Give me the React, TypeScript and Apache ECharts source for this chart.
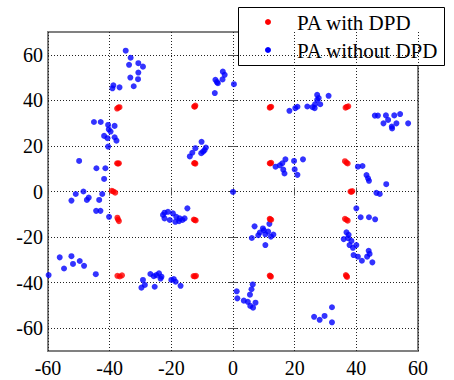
import React, { useEffect, useRef } from "react";
import * as echarts from "echarts";

const xTicks = [-60, -40, -20, 0, 20, 40, 60];
const yTicks = [-60, -40, -20, 0, 20, 40, 60];

const legendNames = ["PA with DPD", "PA without DPD"];

// PA with DPD (red)
const withDpd: number[][] = [
  [-37.6, 36.4], [-36.8, 37.0], [-37.2, 36.8],
  [-12.6, 37.3], [-12.2, 37.7], [-12.4, 37.2],
  [11.9, 36.8], [12.4, 37.2], [12.1, 37.0],
  [36.5, 36.8], [37.4, 37.4], [36.9, 37.1],
  [-37.6, 12.4], [-37.0, 12.4], [-37.3, 12.2],
  [-12.6, 12.4], [-12.2, 12.2], [-12.4, 12.5],
  [11.9, 12.4], [12.4, 12.6], [12.1, 12.3],
  [36.3, 13.3], [37.2, 12.3], [36.8, 12.7],
  [-39.3, 0.3], [-38.2, -0.5], [-38.8, 0.0],
  [38.1, 0.0], [38.7, 0.2], [38.4, -0.2],
  [-37.5, -11.5], [-37.0, -13.0], [-37.3, -12.3],
  [-12.7, -12.3], [-12.1, -12.7], [-12.4, -12.5],
  [11.9, -12.0], [12.4, -12.4], [12.1, -12.2],
  [36.3, -12.0], [37.2, -12.8], [36.8, -12.4],
  [-37.5, -37.0], [-36.0, -36.8], [-36.7, -37.3],
  [-12.8, -37.1], [-12.0, -37.0], [-12.4, -37.3],
  [11.9, -36.9], [12.3, -37.4], [12.1, -37.1],
  [36.6, -36.7], [37.0, -37.5], [36.8, -37.1],
];

// PA without DPD (blue)
const withoutDpd: number[][] = [
  [-34.8, 61.8], [-33.2, 58.7], [-33.7, 55.6], [-30.7, 56.3], [-29.2, 54.8], [-30.7, 52.2],
  [-30.8, 49.3], [-33.3, 50.0], [-32.2, 46.2], [-38.8, 46.6], [-39.1, 45.3], [-36.8, 45.7],
  [-45.1, 30.5], [-42.9, 30.5], [-40.5, 29.2], [-40.3, 27.3], [-38.4, 28.8], [-39.7, 26.3],
  [-41.8, 24.4], [-40.7, 23.4], [-38.4, 23.8], [-37.8, 22.3], [-40.5, 19.7],
  [-49.9, 13.4], [-44.3, 10.2], [-41.4, 10.2], [-41.8, 5.5],
  [-52.4, -4.0], [-51.0, -1.1], [-48.5, 0.0], [-47.4, -3.7], [-46.8, -2.7], [-43.4, -3.7],
  [-42.4, -1.1], [-44.4, -8.5], [-43.0, -8.5], [-40.2, -11.1],
  [-59.8, -36.7], [-56.2, -28.9], [-54.8, -33.8], [-52.4, -28.4], [-51.9, -31.8],
  [-49.7, -30.5], [-48.3, -32.6], [-44.5, -36.3],
  [-26.8, -36.2], [-24.0, -35.9], [-23.2, -37.4], [-24.9, -36.7], [-25.7, -37.2], [-23.5, -38.2],
  [-29.2, -38.8], [-28.6, -41.0], [-29.7, -42.2], [-25.4, -41.8], [-20.0, -38.8], [-19.2, -38.4],
  [-18.6, -39.6], [-17.0, -41.4],
  [-22.7, -10.3], [-22.2, -9.3], [-21.1, -8.9], [-19.5, -9.6], [-18.4, -11.1], [-17.3, -11.8],
  [-16.4, -12.5], [-15.7, -11.8], [-14.8, -7.4], [-20.5, -12.5], [-22.2, -11.8], [-18.7, -13.3],
  [-17.5, -13.0],
  [-14.0, 15.4], [-13.2, 17.0], [-12.2, 19.0], [-10.2, 21.8], [-9.7, 17.5], [-8.8, 19.3],
  [-10.3, 16.8], [-9.2, 18.2],
  [-5.9, 43.2], [-5.7, 49.0], [-4.9, 47.5], [-3.3, 52.6], [-2.7, 51.2], [-3.4, 49.2],
  [0.3, 47.1], [-5.2, 48.0],
  [0.0, -0.2],
  [7.0, -15.3], [9.7, -16.2], [11.8, -14.2], [8.7, -18.0], [10.5, -18.8], [11.4, -17.6],
  [12.3, -19.8], [13.1, -18.9], [6.1, -20.4], [10.5, -23.5], [8.2, -19.2], [10.0, -17.0],
  [1.2, -43.8], [1.4, -46.9], [3.5, -47.9], [4.8, -48.4], [5.5, -45.3], [6.0, -42.9],
  [6.4, -40.8], [5.6, -50.2], [6.5, -51.0], [7.3, -48.8],
  [32.1, -50.8], [26.3, -55.0], [28.1, -56.3], [29.7, -54.6], [32.1, -57.4],
  [13.8, 10.9], [16.0, 12.4], [17.0, 14.1], [16.3, 9.6], [16.7, 7.9], [19.8, 13.4],
  [20.0, 9.7], [20.9, 7.3], [22.7, 14.1], [15.2, 11.5],
  [18.3, 35.4], [20.2, 36.6], [20.9, 37.2], [24.1, 37.3], [25.8, 37.0], [26.6, 38.3],
  [27.3, 40.2], [27.3, 42.4], [27.8, 41.0], [28.3, 38.3], [26.5, 36.6], [31.0, 42.0],
  [46.0, 33.3], [47.0, 33.3], [49.6, 33.4], [48.8, 29.9], [50.3, 31.4], [51.5, 28.5],
  [52.3, 33.4], [54.2, 34.0], [53.0, 29.9], [51.6, 27.7], [56.8, 29.9],
  [40.5, 10.9], [42.0, 11.2], [43.3, 7.2], [43.8, 5.8], [44.1, 4.7], [49.7, 3.2],
  [46.5, -0.6], [47.6, -1.1],
  [40.0, -7.4], [41.4, -11.3], [44.1, -11.3], [46.1, -12.2],
  [36.8, -17.9], [35.9, -20.9], [37.3, -20.5], [38.4, -21.7], [37.8, -23.5], [38.9, -24.7],
  [40.0, -23.5], [39.1, -27.9], [40.5, -28.6], [41.8, -30.4], [43.5, -28.6], [44.0, -26.0],
  [44.3, -27.4], [45.2, -31.1], [37.5, -19.0],
];

const FONT = "'Liberation Serif', 'Times New Roman', serif";

export default function App() {
  const ref = useRef<HTMLDivElement>(null);
  useEffect(() => {
    if (!ref.current) return;
    const chart = echarts.init(ref.current, undefined, { renderer: "svg" });
    const gridLine = { show: true, lineStyle: { color: "#222", type: [1, 2], width: 1 } };
    const tick = { show: true, inside: true, length: 4, lineStyle: { color: "#555" } };
    chart.setOption({
      animation: false,
      backgroundColor: "#fff",
      grid: {
        left: 48, right: 36, top: 32, bottom: 29,
        show: true, borderColor: "#808080", borderWidth: 2,
      },
      xAxis: [
        {
          type: "value", min: xTicks[0], max: xTicks[xTicks.length - 1], interval: 20,
          axisLine: { show: false },
          axisTick: tick,
          splitLine: gridLine,
          axisLabel: { color: "#000", fontFamily: FONT, fontSize: 20, margin: 7 },
        },
        {
          type: "value", position: "top", min: xTicks[0], max: xTicks[xTicks.length - 1], interval: 20,
          axisLine: { show: false }, axisTick: tick, splitLine: { show: false },
          axisLabel: { show: false },
        },
      ],
      yAxis: [
        {
          type: "value", min: -70, max: 70, interval: 10,
          axisLine: { show: false },
          axisTick: { ...tick, customValues: yTicks },
          splitLine: gridLine,
          axisLabel: { color: "#000", fontFamily: FONT, fontSize: 20, margin: 5, customValues: yTicks },
        },
        {
          type: "value", position: "right", min: -70, max: 70, interval: 10,
          axisLine: { show: false },
          axisTick: { ...tick, customValues: yTicks },
          splitLine: { show: false },
          axisLabel: { show: false },
        },
      ],
      series: [
        {
          name: legendNames[1], type: "scatter", data: withoutDpd,
          symbol: "circle", symbolSize: 6, itemStyle: { color: "#0000ff" },
        },
        {
          name: legendNames[0], type: "scatter", data: withDpd,
          symbol: "circle", symbolSize: 6, itemStyle: { color: "#ff0000" },
        },
      ],
      graphic: [
        {
          type: "group", z: 100,
          children: [
            {
              type: "rect", shape: { x: 238.5, y: 7.5, width: 206, height: 58 },
              style: { fill: "#fff", stroke: "#000", lineWidth: 1 },
            },
            { type: "circle", shape: { cx: 268, cy: 22, r: 3 }, style: { fill: "#ff0000" } },
            { type: "circle", shape: { cx: 268, cy: 50, r: 3 }, style: { fill: "#0000ff" } },
            {
              type: "text", x: 297, y: 23,
              style: { text: legendNames[0], fill: "#000", font: `21px ${FONT}`, verticalAlign: "middle" },
            },
            {
              type: "text", x: 297, y: 51,
              style: { text: legendNames[1], fill: "#000", font: `21px ${FONT}`, verticalAlign: "middle" },
            },
          ],
        },
      ],
    });
    return () => chart.dispose();
  }, []);
  return (
    <div
      ref={ref}
      style={{ position: "fixed", left: 0, top: 0, width: 454, height: 380, background: "#fff" }}
    />
  );
}
